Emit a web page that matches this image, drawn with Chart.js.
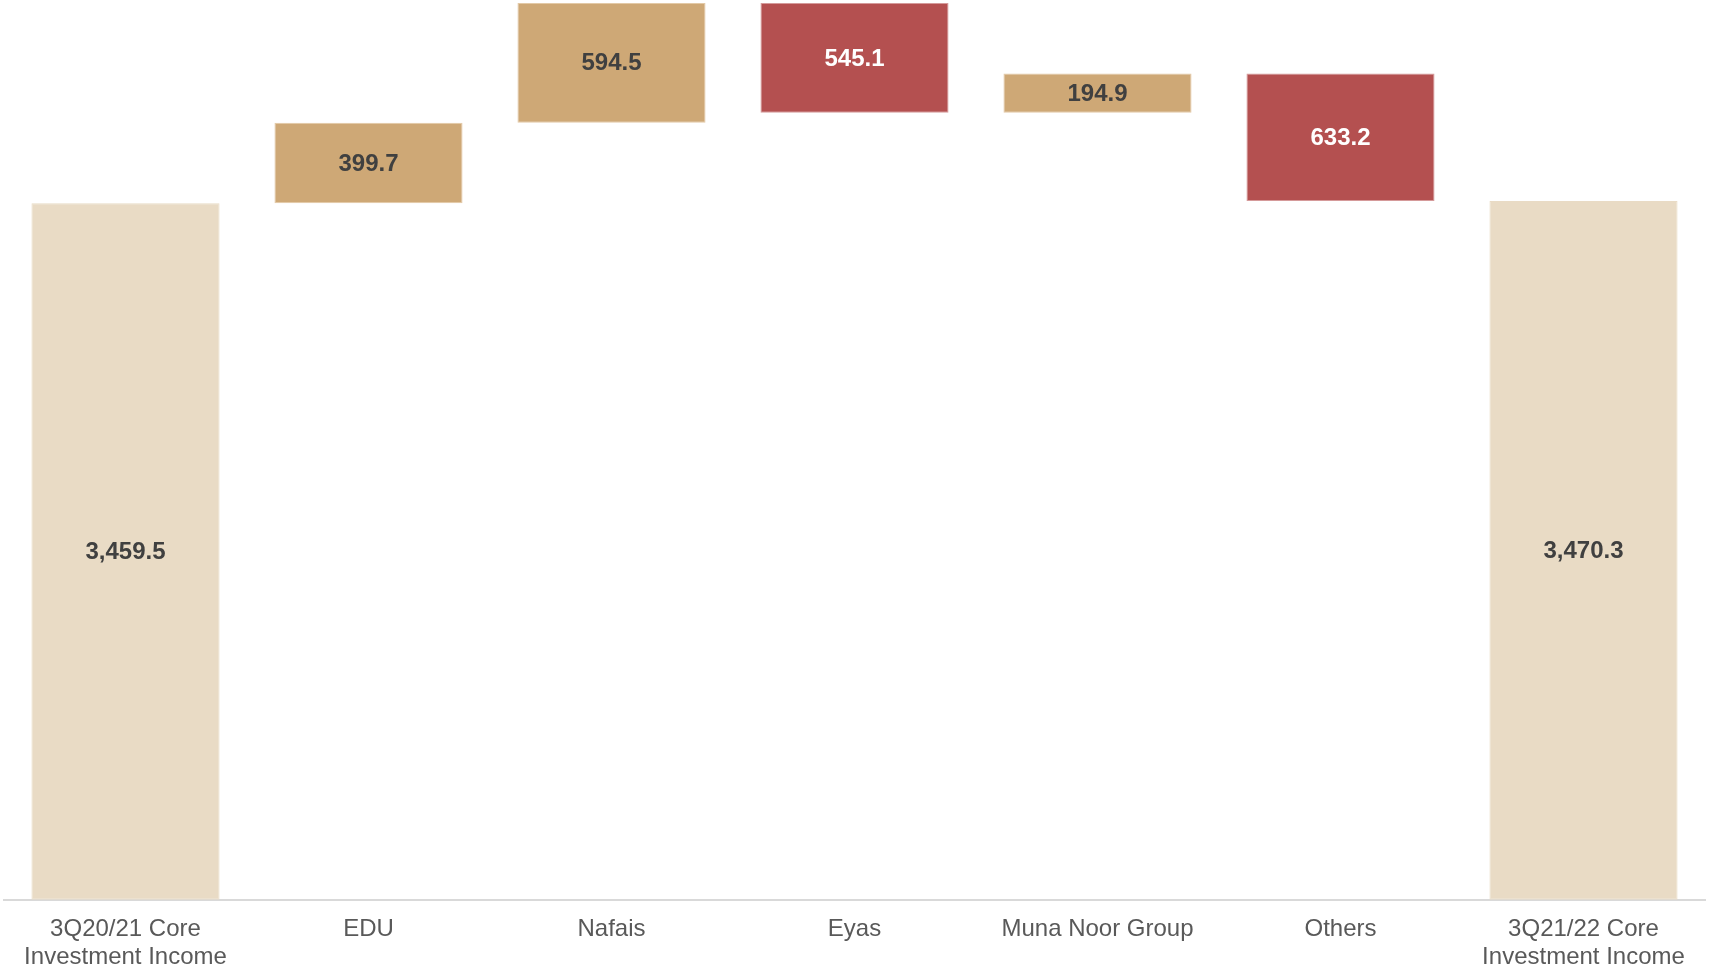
<!DOCTYPE html>
<html>
<head>
<meta charset="utf-8">
<script src="https://cdn.jsdelivr.net/npm/chart.js@4/dist/chart.umd.min.js"></script>
<style>
  html, body { margin: 0; padding: 0; background: #ffffff; overflow: hidden; }
  #wrap { width: 1709px; height: 979px; position: relative; }
</style>
</head>
<body>
<div id="wrap"><canvas id="c"></canvas></div>
<script>
// ---- data ----
const categories = [
  ["3Q20/21 Core", "Investment Income"],
  "EDU",
  "Nafais",
  "Eyas",
  "Muna Noor Group",
  "Others",
  ["3Q21/22 Core", "Investment Income"]
];
const values = [3459.5, 399.7, 594.5, -545.1, 194.9, -633.2, 3470.3];
const kinds  = ["total", "delta", "delta", "delta", "delta", "delta", "total"];

// ---- build floating ranges from the data ----
const ranges = [];
let running = 0;
values.forEach((v, i) => {
  if (kinds[i] === "total") {
    ranges.push([0, v]);
    running = v;
  } else {
    const next = running + v;
    ranges.push([Math.min(running, next), Math.max(running, next)]);
    running = next;
  }
});
const yMax = Math.max(...ranges.map(r => r[1]));

const colTotal = "#E9DBC5", colUp = "#CEA876", colDown = "#B45050";
const fills = values.map((v, i) => kinds[i] === "total" ? colTotal : (v >= 0 ? colUp : colDown));
const borders = values.map((v, i) => kinds[i] === "total" ? colTotal : (v >= 0 ? "#E3C9A6" : "#D59A9A"));
const labelColors = values.map((v, i) => (kinds[i] !== "total" && v < 0) ? "#FFFFFF" : "#404040");

function fmt(v) {
  return Math.abs(v).toLocaleString("en-US", { minimumFractionDigits: 1, maximumFractionDigits: 1 });
}

const valueLabels = {
  id: "valueLabels",
  afterDatasetsDraw(chart) {
    const ctx = chart.ctx;
    const meta = chart.getDatasetMeta(0);
    ctx.save();
    ctx.font = "bold 24px 'Liberation Sans', Arial, sans-serif";
    ctx.textAlign = "center";
    ctx.textBaseline = "middle";
    meta.data.forEach((bar, i) => {
      const p = bar.getProps(["x", "y", "base"], true);
      ctx.fillStyle = labelColors[i];
      ctx.fillText(fmt(values[i]), p.x, (p.y + p.base) / 2 + 1);
    });
    ctx.restore();
  }
};

new Chart(document.getElementById("c"), {
  type: "bar",
  data: {
    labels: categories,
    datasets: [{
      data: ranges,
      backgroundColor: fills,
      borderColor: borders,
      borderWidth: 1,
      borderSkipped: false,
      barPercentage: 0.774,
      categoryPercentage: 1.0
    }]
  },
  options: {
    responsive: true,
    maintainAspectRatio: false,
    animation: false,
    layout: { padding: { top: 3, left: 4, right: 4, bottom: 0 } },
    plugins: { legend: { display: false }, tooltip: { enabled: false } },
    scales: {
      y: { display: false, min: 0, max: yMax },
      x: {
        grid: { display: false },
        border: { display: true, color: "#D9D9D9", width: 2 },
        ticks: {
          color: "#595959",
          autoSkip: false,
          maxRotation: 0,
          minRotation: 0,
          padding: 8,
          font: { family: "'Liberation Sans', Arial, sans-serif", size: 24, lineHeight: 1.15 }
        }
      }
    }
  },
  plugins: [valueLabels]
});
</script>
</body>
</html>
